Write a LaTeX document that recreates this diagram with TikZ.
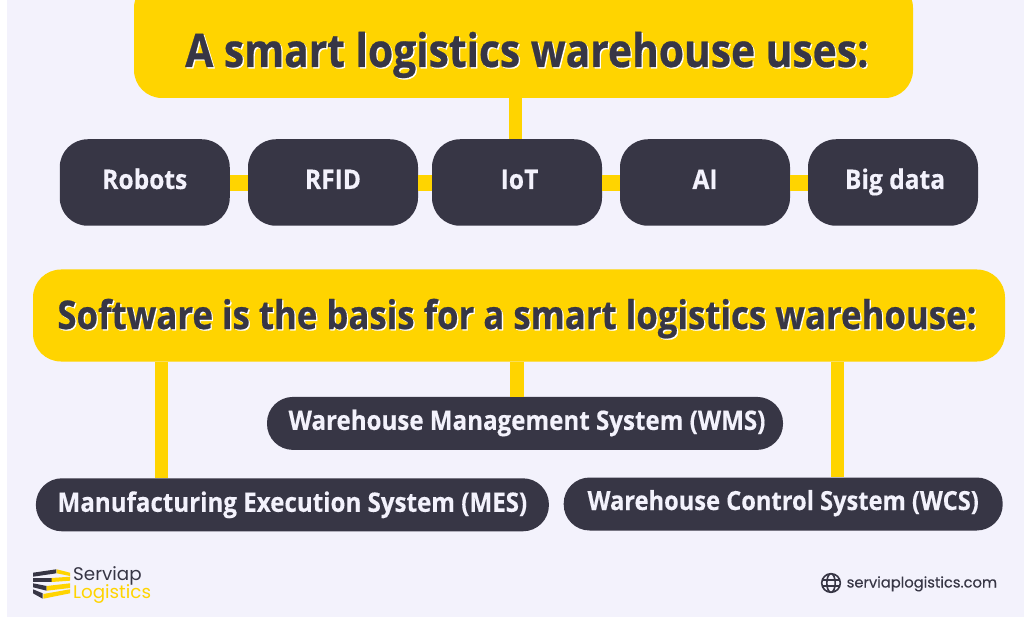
\documentclass[tikz,border=0pt]{standalone}
\usepackage{fontspec}
\setmainfont{Open Sans}
\newfontfamily\boxfont[FakeStretch=0.88,BoldFeatures={FakeBold=0.6}]{Open Sans}
\newfontfamily\pillfont[FakeStretch=0.9,BoldFeatures={FakeBold=0.3}]{Open Sans}
\newfontfamily\itemfont[FakeStretch=0.91,BoldFeatures={FakeBold=0.3}]{Open Sans}
\newfontfamily\logofont{Poppins}
\newfontfamily\sitefont[FakeBold=0.25]{Poppins}
\definecolor{pagebg}{HTML}{F3F2FC}
\definecolor{ink}{HTML}{373645}
\definecolor{signal}{HTML}{FFD400}
\newcommand{\shadowed}[1]{\rlap{\kern1.3pt\raisebox{-1.3pt}{\color{white}#1}}#1}
\tikzset{
  headbox/.style={fill=signal,text=ink,rounded corners=28pt,inner sep=0pt,
    text height=27pt,text depth=0pt,font=\boxfont\bfseries\fontsize{39.5}{39.5}\selectfont},
  itembox/.style={fill=ink,text=pagebg,rounded corners=28pt,inner sep=0pt,minimum width=170pt,minimum height=86.5pt,
    text height=13pt,text depth=-1pt,font=\itemfont\bfseries\fontsize{27}{27}\selectfont},
  pillbox/.style={fill=ink,text=pagebg,rounded corners=26pt,inner sep=0pt,minimum height=53pt,
    text height=13pt,text depth=0pt,font=\pillfont\bfseries\fontsize{26.8}{26.8}\selectfont},
  logotext/.style={anchor=base west,inner sep=0pt,font=\logofont\fontsize{18.3}{18.3}\selectfont},
  link/.style={signal,line width=13.5pt},
  hlink/.style={signal,line width=16pt},
}
\begin{document}
\begin{tikzpicture}[x=1pt,y=-1pt]
  \useasboundingbox (0,0) rectangle (1024,617);
  \fill[white] (0,0) rectangle (1024,617);
  \fill[pagebg] (7,0) rectangle (1024,617);

  \node[headbox,minimum width=779pt,minimum height=118pt,text height=56pt,
    font=\boxfont\bfseries\fontsize{46.3}{46.3}\selectfont] (title) at (523.5,39) {\hspace*{7pt}\shadowed{A smart logistics warehouse uses:}};
  \foreach \name/\cx/\label in {robots/144.75/Robots,rfid/333/RFID,iot/517/\hspace*{5pt}IoT,ai/705/AI,bigdata/893/\hspace*{4pt}Big data}
    \node[itembox] (\name) at (\cx,182.5) {\label};
  \foreach \from/\to in {robots/rfid,rfid/iot,iot/ai,ai/bigdata}
    \draw[hlink] ([yshift=-0.5pt]\from.east) -- ([yshift=-0.5pt]\to.west);
  \draw[link] ([xshift=-8pt]title.south) -- ([xshift=-1.5pt]iot.north);

  \node[headbox,minimum width=972pt,minimum height=92pt] (software) at (519,315.5) {\shadowed{Software is the basis for a smart logistics warehouse:}\hspace*{4pt}};
  \node[pillbox,minimum width=516pt] (wms) at (525,423.4) {\hspace*{4pt}Warehouse Management System (WMS)};
  \node[pillbox,minimum width=513pt,text height=14pt] (mes) at (292.4,504.8) {Manufacturing Execution System (MES)};
  \node[pillbox,minimum width=439pt,text height=12pt,font=\pillfont\bfseries\fontsize{26.3}{26.3}\selectfont] (wcs) at (783.2,504) {Warehouse Control System (WCS)};
  \draw[link] ([xshift=-357.5pt]software.south) -- ([xshift=-130.9pt]mes.north);
  \draw[link] ([xshift=-2pt]software.south) -- ([xshift=-8pt]wms.north);
  \draw[link] ([xshift=318.5pt]software.south) -- ([xshift=54.3pt]wcs.north);

  \fill[ink] (33,572.7) -- (56.3,569.3) -- (56.3,573.3) -- (33,576.7) -- cycle;
  \fill[signal] (56.7,569.3) -- (70,572.7) -- (70,576) -- (56.7,573.3) -- cycle;
  \fill[ink] (33,578) -- (51.7,578) -- (51.7,582) -- (33,582) -- cycle;
  \fill[signal] (51.7,578) -- (70,576.7) -- (70,580.7) -- (51.7,582) -- cycle;
  \fill[ink] (33,583.3) -- (46.7,586) -- (46.7,590.7) -- (33,587.3) -- cycle;
  \fill[signal] (46.7,586) -- (70,583.3) -- (70,588) -- (46.7,590.7) -- cycle;
  \fill[ink] (33,589.3) -- (42.7,593.3) -- (42.7,598.7) -- (33,593.3) -- cycle;
  \fill[signal] (43.3,594) -- (70,589.3) -- (70,593.3) -- (43.3,598.7) -- cycle;
  \node[logotext,text=ink] (brand) at (73,580.8) {Serviap};
  \node[logotext,text=signal] (brandsub) at (73,598) {Logistics};

  \node[anchor=base west,inner sep=0pt,text=ink,font=\sitefont\fontsize{14.7}{14.7}\selectfont] (site) at (846.5,587.5) {serviaplogistics.com};
  \draw[ink,line width=1.6pt] (831,583) circle (9.3) ellipse (4.2 and 9.3) (822,580) -- (840,580) (822,586) -- (840,586);
\end{tikzpicture}
\end{document}
